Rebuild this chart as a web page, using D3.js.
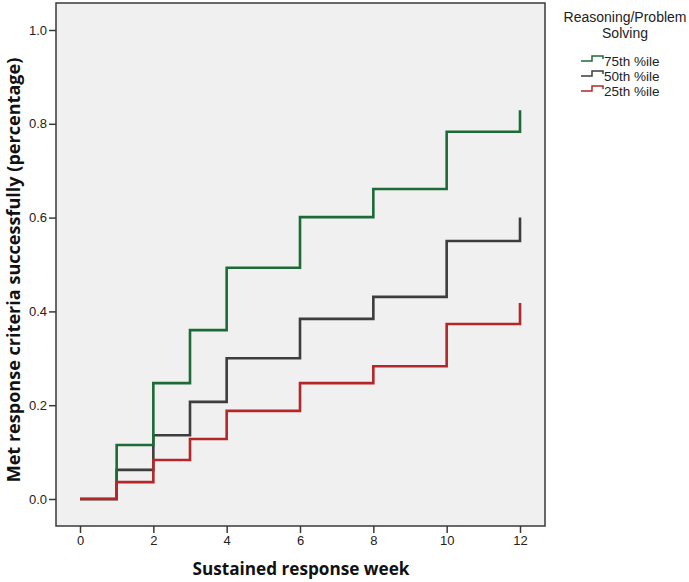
<!DOCTYPE html>
<html><head><meta charset="utf-8">
<script src="https://cdn.jsdelivr.net/npm/d3@7"></script>
<style>body{margin:0;background:#fff;} text{font-family:"Liberation Sans",Arial,sans-serif;}</style>
</head><body>
<svg id="c" width="689" height="582"></svg>
<script>
const weeks = [0, 1, 2, 3, 4, 6, 8, 10, 12];
const p75 = [0, 0.115, 0.247, 0.36, 0.493, 0.601, 0.661, 0.783, 0.829];
const p50 = [0, 0.062, 0.136, 0.207, 0.30, 0.384, 0.431, 0.55, 0.60];
const p25 = [0, 0.036, 0.083, 0.128, 0.188, 0.247, 0.283, 0.373, 0.418];
const seriesNames = ["75th %ile", "50th %ile", "25th %ile"];
const seriesColors = ["#1c6b37", "#3d3d3d", "#b3272a"];
const xTicks = [0, 2, 4, 6, 8, 10, 12];
const yTicks = [0.0, 0.2, 0.4, 0.6, 0.8, 1.0];
const legendTitle = ["Reasoning/Problem", "Solving"];

const svg = d3.select("#c");
const L = 56, R = 545, T = 3, B = 526;
const x = d3.scaleLinear().domain([0, 12]).range([80, 520]);
const y = d3.scaleLinear().domain([0, 1]).range([499, 30]);

svg.append("rect").attr("x", L).attr("y", T).attr("width", R - L).attr("height", B - T)
  .attr("fill", "#f0f0f0").attr("stroke", "#3a3a3a").attr("stroke-width", 1.5);

// y axis
const ya = svg.append("g").attr("transform", `translate(${L},0)`)
  .call(d3.axisLeft(y).tickValues(yTicks).tickFormat(d3.format(".1f")).tickSize(7).tickSizeOuter(0));
ya.select(".domain").remove();
ya.selectAll("line").attr("stroke", "#3a3a3a").attr("stroke-width", 1.5);
ya.selectAll("text").attr("font-size", 13).attr("fill", "#222").attr("x", -9)
  .style("font-family", '"Liberation Sans",Arial,sans-serif');

// x axis
const xa = svg.append("g").attr("transform", `translate(0,${B})`)
  .call(d3.axisBottom(x).tickValues(xTicks).tickFormat(d3.format("d")).tickSize(7).tickSizeOuter(0));
xa.select(".domain").remove();
xa.selectAll("line").attr("stroke", "#3a3a3a").attr("stroke-width", 1.5);
xa.selectAll("text").attr("font-size", 13).attr("fill", "#222").attr("y", 10)
  .style("font-family", '"Liberation Sans",Arial,sans-serif');

// titles (fit to reference widths)
function fit(sel, target) {
  const len = sel.node().getComputedTextLength();
  const fs = parseFloat(sel.attr("font-size"));
  sel.attr("font-size", fs * target / len);
}
const xt = svg.append("text").attr("x", 301).attr("y", 575).attr("text-anchor", "middle")
  .style("font-family", '"Open Sans",sans-serif')
  .attr("font-size", 16).attr("font-weight", "bold").attr("fill", "#111").text("Sustained response week");
fit(xt, 217);
const yt = svg.append("text").attr("transform", "translate(20,270) rotate(-90)").attr("text-anchor", "middle")
  .style("font-family", '"Open Sans",sans-serif')
  .attr("font-size", 16).attr("font-weight", "bold").attr("fill", "#111").text("Met response criteria successfully (percentage)");
fit(yt, 425);

// curves
const line = d3.line().x(d => x(d[0])).y(d => y(d[1])).curve(d3.curveStepAfter);
const allSeries = [p75, p50, p25];
[1, 0, 2].forEach(i => {
  const pts = weeks.map((w, j) => [w, allSeries[i][j]]);
  svg.append("path").attr("d", line(pts)).attr("fill", "none")
    .attr("stroke", seriesColors[i]).attr("stroke-width", 2.6);
});

// legend
legendTitle.forEach((t, i) => {
  svg.append("text").attr("x", 625).attr("y", 22 + i * 16).attr("text-anchor", "middle")
    .attr("font-size", 14).attr("fill", "#222").text(t);
});
seriesNames.forEach((n, i) => {
  const cy = 61 + i * 15;
  svg.append("path").attr("d", `M581,${cy} H592 V${cy - 5} H603 V${cy - 2}`)
    .attr("fill", "none").attr("stroke", seriesColors[i]).attr("stroke-width", 1.5);
  svg.append("text").attr("x", 604).attr("y", cy + 5).attr("font-size", 13.5).attr("fill", "#222").text(n);
});
</script>
</body></html>
